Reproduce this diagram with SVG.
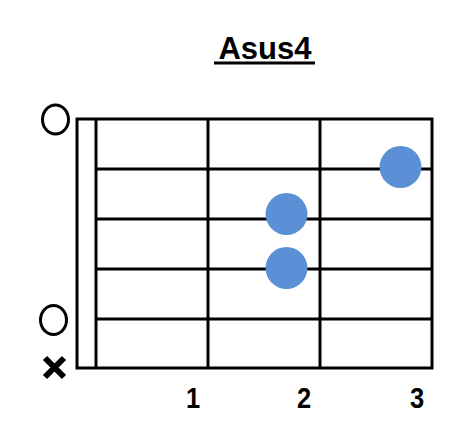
<svg xmlns="http://www.w3.org/2000/svg" width="473" height="425" viewBox="0 0 473 425">
<style>
.ln{stroke:#000;stroke-width:3;fill:none}
.dot{fill:#5B8FD6}
.open{fill:none;stroke:#000;stroke-width:3}
.t{font-family:"Liberation Sans",Arial,sans-serif;font-weight:bold;fill:#000}
</style>
<rect width="473" height="425" fill="#fff"/>
<g id="title">
<text class="t" x="265" y="59" font-size="31" text-anchor="middle">Asus4</text>
<line x1="214" y1="63" x2="315" y2="63" stroke="#000" stroke-width="3"/>
</g>
<g id="grid">
<rect class="ln" x="77" y="119" width="355" height="249"/>
<line class="ln" x1="96" y1="119" x2="96" y2="368"/>
<line class="ln" x1="96" y1="169" x2="432" y2="169"/>
<line class="ln" x1="96" y1="219" x2="432" y2="219"/>
<line class="ln" x1="96" y1="269" x2="432" y2="269"/>
<line class="ln" x1="96" y1="319" x2="432" y2="319"/>
<line class="ln" x1="208" y1="119" x2="208" y2="368"/>
<line class="ln" x1="320" y1="119" x2="320" y2="368"/>
</g>
<g id="dots">
<circle class="dot" cx="400.5" cy="167" r="21"/>
<circle class="dot" cx="286.5" cy="214" r="21"/>
<circle class="dot" cx="286.5" cy="268" r="21"/>
</g>
<g id="open-strings">
<ellipse class="open" cx="55.5" cy="119.5" rx="13" ry="14.5"/>
<ellipse class="open" cx="53.5" cy="320" rx="13" ry="14.5"/>
</g>
<g id="mute">
<path d="M45 358 L64 377 M64 358 L45 377" stroke="#000" stroke-width="6" fill="none"/>
</g>
<g id="fret-numbers">
<text class="t" x="193" y="408" font-size="30" text-anchor="middle" transform="translate(193 0) scale(0.85 1) translate(-193 0)">1</text>
<text class="t" x="304" y="408" font-size="30" text-anchor="middle" transform="translate(304 0) scale(0.85 1) translate(-304 0)">2</text>
<text class="t" x="417" y="408" font-size="30" text-anchor="middle" transform="translate(417 0) scale(0.85 1) translate(-417 0)">3</text>
</g>
</svg>
